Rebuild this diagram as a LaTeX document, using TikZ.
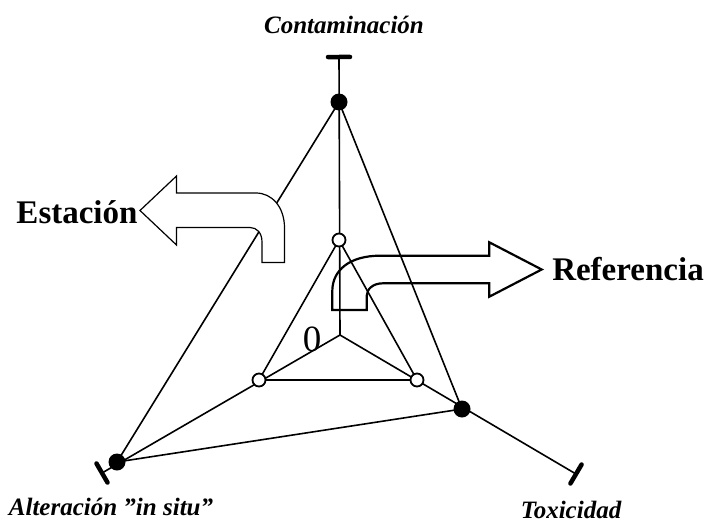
\documentclass[tikz,border=0pt]{standalone}
\usepackage{fontspec}
\setmainfont{Liberation Serif}[Ligatures=ResetAll]
\usetikzlibrary{calc}
\begin{document}
\begin{tikzpicture}[x=1pt,y=-1pt,
  ln/.style={line width=1.6pt},
  tickmark/.style={line width=4.5pt,line cap=round},
  fdot/.style={circle,fill=black,inner sep=0pt,minimum size=17pt},
  odot/.style={circle,draw,line width=1.8pt,fill=white,inner sep=0pt,minimum size=13pt},
  axlabel/.style={font=\fontsize{25}{25}\selectfont\bfseries\itshape,anchor=base},
  biglabel/.style={font=\fontsize{33}{33}\selectfont\bfseries,anchor=base}]
\useasboundingbox (0,0) rectangle (704,522);
% coordinates
\coordinate (O) at (340,335);
\coordinate (T1) at (339,57);
\coordinate (T2) at (102,473);
\coordinate (T3) at (576,474);
% axes
\draw[ln] (O) -- (T1);
\draw[ln] (O) -- (T2);
\draw[ln] (O) -- (T3);
\draw[tickmark] ($(T1)!11pt!90:(O)$) -- ($(T1)!11pt!-90:(O)$);
\draw[tickmark] ($(T2)!11pt!90:(O)$) -- ($(T2)!11pt!-90:(O)$);
\draw[tickmark] ($(T3)!11pt!90:(O)$) -- ($(T3)!11pt!-90:(O)$);
% points
\coordinate (F1) at (339,102);
\coordinate (F2) at (117,462);
\coordinate (F3) at (462,409);
\coordinate (A1) at (339,240);
\coordinate (A2) at (259,380);
\coordinate (A3) at (417,380);
% triangles
\draw[ln] (F1) -- (F2) -- (F3) -- cycle;
\draw[ln] (A1) -- (A2) -- (A3) -- cycle;
\node[fdot] (f1) at (F1) {};
\node[fdot] (f2) at (F2) {};
\node[fdot] (f3) at (F3) {};
\node[odot] (a1) at (A1) {};
\node[odot] (a2) at (A2) {};
\node[odot] (a3) at (A3) {};
% Estacion arrow (filled white)
\draw[line width=1.2pt,fill=white,line join=miter]
  (176.5,193) -- (176.5,176) -- (140,210.5) -- (176.5,245) -- (176.5,227.5)
  -- (250,227.5) .. controls (257,227.5) and (262,233) .. (262,242)
  -- (262,262.5) -- (284.5,262.5) -- (284.5,228)
  .. controls (284.5,207) and (272,193) .. (256,193) -- cycle;
% Referencia arrow (outline only)
\draw[line width=2.2pt,line join=miter]
  (332.3,310) -- (332.3,291)
  .. controls (332.3,270) and (350,255.7) .. (380,255.7)
  -- (489.3,255.7) -- (489.3,242.3) -- (541.7,269.5) -- (489.3,296.7) -- (489.3,283.3)
  -- (383,283.3) .. controls (373,283.3) and (366.7,289) .. (366.7,296)
  -- (366.7,310) -- cycle;
% labels
\node[axlabel] (lc) at (344,33) {Contaminación};
\node[axlabel] (la) at (111,515) {Alteración "in situ"};
\node[axlabel] (lt) at (571,518) {Toxicidad};
\node[biglabel] (le) at (77,223) {Estación};
\node[biglabel] (lr) at (628,280) {Referencia};
\node[font=\fontsize{37}{37}\selectfont,anchor=base] (zero) at (312,351) {0};
\end{tikzpicture}
\end{document}
